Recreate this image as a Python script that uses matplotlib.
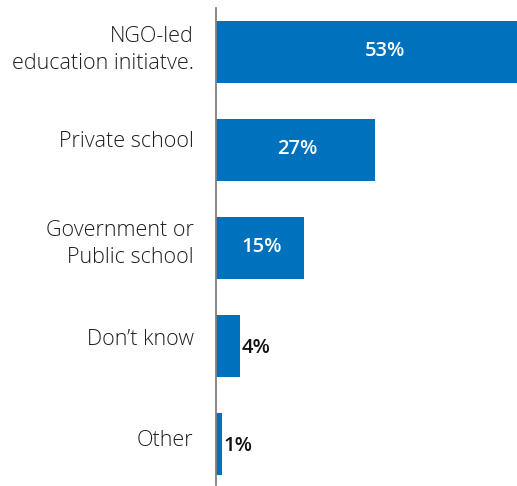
import matplotlib.pyplot as plt

categories = ["NGO-led\neducation initiatve.", "Private school",
              "Government or\nPublic school", "Don\u2019t know", "Other"]
values = [53, 27, 15, 4, 1]
labels = ["53%", "27%", "15%", "4%", "1%"]

plt.rcParams['font.family'] = ['Open Sans', 'DejaVu Sans']

fig = plt.figure(figsize=(5.17, 4.86), dpi=100)
ax = fig.add_axes([216 / 517, 1 / 486, 1 - 216 / 517, 477 / 486])

pos = list(range(len(values)))
ax.barh(pos, values, height=0.63, color="#0071BC")
ax.set_xlim(0, 51.2)
ax.set_ylim(4.42, -0.45)

for i, (v, t) in enumerate(zip(values, labels)):
    if v >= 10:
        x = v / 2 + (2.2 if v > 50 else 0.3)
        ax.text(x, i - 0.01, t, ha="center", va="center", color="white",
                fontsize=14.5, fontweight="semibold")
    else:
        ax.text(v + 0.3, i + 0.02, t, ha="left", va="center", color="#111111",
                fontsize=14.5, fontweight="semibold")

# category labels sit a little above the bar centres
shift = [-0.02, -0.09, -0.04, -0.07, -0.03]
for i, c in enumerate(categories):
    ax.text(-3.8, i + shift[i], c, ha="right", va="center", fontsize=15.5,
            color="#1e1e1e", linespacing=1.35, fontweight="light")

ax.set_yticks([])
ax.set_xticks([])
for s in ["top", "right", "bottom"]:
    ax.spines[s].set_visible(False)
ax.spines["left"].set_color("#808080")
ax.spines["left"].set_linewidth(1.3)

fig.savefig("out.png", dpi=100)
